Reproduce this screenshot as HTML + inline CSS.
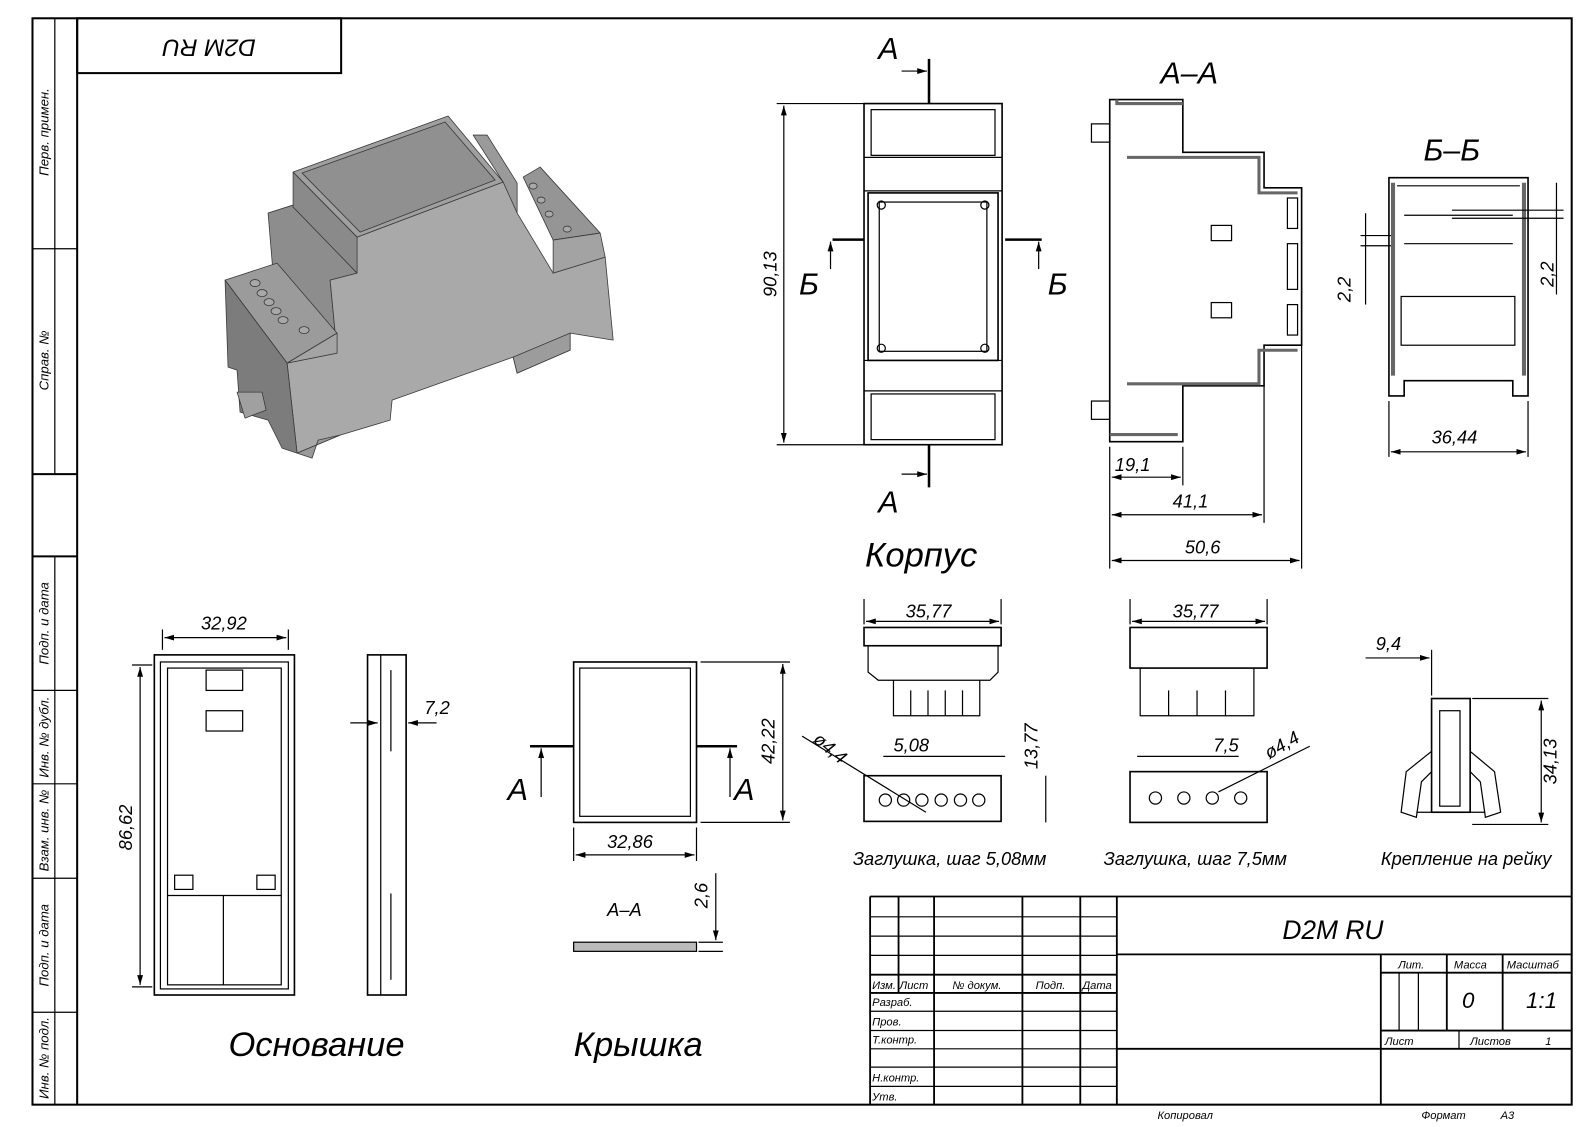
<!DOCTYPE html>
<html><head><meta charset="utf-8"><style>
html,body{margin:0;padding:0;background:#fff;}
svg{display:block;}
text{font-family:"Liberation Sans","DejaVu Sans",sans-serif;font-style:italic;fill:#000;}
</style></head><body>
<svg width="1592" height="1127" viewBox="0 0 1568 1110" xmlns="http://www.w3.org/2000/svg">
<defs><marker id="ar" viewBox="0 0 10 10" refX="10" refY="5" markerWidth="8" markerHeight="8" orient="auto-start-reverse"><path d="M0,2 L10,5 L0,8 z" fill="#000"/></marker></defs>
<g fill="none" stroke="#000" stroke-width="1.2">
<rect x="32" y="18" width="1516" height="1070" stroke-width="2"/>
<line x1="76" y1="18" x2="76" y2="1088" stroke-width="2"/>
<line x1="54" y1="18" x2="54" y2="467"/><line x1="32" y1="245" x2="76" y2="245"/><line x1="32" y1="467" x2="76" y2="467" stroke-width="2"/>
<line x1="54" y1="548" x2="54" y2="1088"/>
<line x1="32" y1="548" x2="76" y2="548" stroke-width="2"/><line x1="32" y1="680" x2="76" y2="680"/><line x1="32" y1="772" x2="76" y2="772"/><line x1="32" y1="865" x2="76" y2="865"/><line x1="32" y1="997" x2="76" y2="997"/>
<rect x="76" y="18" width="260" height="54" stroke-width="2"/>
<g stroke-width="1.8">
<line x1="857" y1="883" x2="1548" y2="883"/><line x1="857" y1="883" x2="857" y2="1088"/>
<line x1="1100" y1="883" x2="1100" y2="1088"/>
<line x1="1100" y1="940" x2="1548" y2="940"/><line x1="1100" y1="1033" x2="1548" y2="1033"/>
<line x1="1360" y1="940" x2="1360" y2="1088"/>
<line x1="857" y1="960" x2="1100" y2="960"/><line x1="857" y1="978" x2="1100" y2="978"/>
<line x1="1360" y1="958" x2="1548" y2="958"/><line x1="1360" y1="1015" x2="1548" y2="1015"/>
<line x1="1425" y1="940" x2="1425" y2="1015"/><line x1="1480" y1="940" x2="1480" y2="1015"/>
<line x1="885" y1="883" x2="885" y2="978"/><line x1="920" y1="883" x2="920" y2="1088"/><line x1="1007" y1="883" x2="1007" y2="1088"/><line x1="1064" y1="883" x2="1064" y2="1088"/>
</g>
<line x1="857" y1="903" x2="1100" y2="903"/><line x1="857" y1="922" x2="1100" y2="922"/><line x1="857" y1="941" x2="1100" y2="941"/>
<line x1="857" y1="996" x2="1100" y2="996"/><line x1="857" y1="1015" x2="1100" y2="1015"/><line x1="857" y1="1033" x2="1100" y2="1033"/><line x1="857" y1="1051" x2="1100" y2="1051"/><line x1="857" y1="1070" x2="1100" y2="1070"/>
<line x1="1378" y1="958" x2="1378" y2="1015"/><line x1="1397" y1="958" x2="1397" y2="1015"/><line x1="1437" y1="1015" x2="1437" y2="1033"/>

<rect x="851" y="102" width="136" height="336" stroke-width="1.6"/>
<rect x="858" y="108" width="122" height="45"/><line x1="851" y1="155" x2="987" y2="155"/><line x1="851" y1="188" x2="987" y2="188"/>
<rect x="855" y="190" width="128" height="165" stroke-width="1.6"/>
<rect x="866" y="199" width="106" height="147"/>
<line x1="851" y1="355" x2="987" y2="355"/><line x1="851" y1="385" x2="987" y2="385"/>
<rect x="858" y="388" width="122" height="45"/>
<circle cx="868" cy="202" r="4"/><circle cx="970" cy="202" r="4"/><circle cx="868" cy="343" r="4"/><circle cx="970" cy="343" r="4"/>
<line x1="915" y1="58" x2="915" y2="102" stroke-width="2.5"/><line x1="915" y1="438" x2="915" y2="480" stroke-width="2.5"/>
<line x1="888" y1="70" x2="913" y2="70" marker-end="url(#ar)"/><line x1="888" y1="467" x2="913" y2="467" marker-end="url(#ar)"/>
<line x1="820" y1="236" x2="851" y2="236" stroke-width="2.5"/><line x1="990" y1="236" x2="1026" y2="236" stroke-width="2.5"/>
<line x1="818" y1="265" x2="818" y2="238" marker-end="url(#ar)"/><line x1="1023" y1="265" x2="1023" y2="238" marker-end="url(#ar)"/>
<line x1="765" y1="102" x2="851" y2="102"/><line x1="765" y1="438" x2="851" y2="438"/>
<line x1="772" y1="104" x2="772" y2="436" marker-start="url(#ar)" marker-end="url(#ar)"/>

<path d="M1093,98 L1165,98 L1165,150 L1245,150 L1245,185 L1282,185 L1282,340 L1245,340 L1245,380 L1165,380 L1165,435 L1093,435 Z" stroke-width="1.6"/>
<path d="M1100,98 L1100,102 L1165,102 M1110,155 L1240,155 L1240,190 L1278,190 M1110,378 L1240,378 L1240,345 L1278,345 M1093,428 L1160,428" stroke="#666" stroke-width="3"/>
<rect x="1075" y="122" width="18" height="18"/><rect x="1075" y="395" width="18" height="18"/>
<rect x="1193" y="222" width="20" height="15"/><rect x="1193" y="298" width="20" height="15"/>
<rect x="1268" y="195" width="10" height="30"/><rect x="1268" y="240" width="10" height="45"/><rect x="1268" y="300" width="10" height="30"/>
<line x1="1093" y1="440" x2="1093" y2="560"/><line x1="1165" y1="440" x2="1165" y2="478"/><line x1="1245" y1="380" x2="1245" y2="515"/><line x1="1282" y1="340" x2="1282" y2="560"/>
<line x1="1095" y1="470" x2="1163" y2="470" marker-start="url(#ar)" marker-end="url(#ar)"/>
<line x1="1095" y1="507" x2="1243" y2="507" marker-start="url(#ar)" marker-end="url(#ar)"/>
<line x1="1095" y1="552" x2="1280" y2="552" marker-start="url(#ar)" marker-end="url(#ar)"/>

<path d="M1368,175 L1505,175 L1505,390 L1490,390 L1490,375 L1383,375 L1383,390 L1368,390 Z" stroke-width="1.6"/>
<path d="M1372,180 L1372,370 M1501,180 L1501,370" stroke="#666" stroke-width="4"/>
<line x1="1376" y1="183" x2="1497" y2="183"/>
<line x1="1383" y1="212" x2="1490" y2="212"/><line x1="1383" y1="240" x2="1490" y2="240"/>
<rect x="1380" y="292" width="112" height="48"/>
<line x1="1368" y1="395" x2="1368" y2="450"/><line x1="1505" y1="395" x2="1505" y2="450"/>
<line x1="1370" y1="445" x2="1503" y2="445" marker-start="url(#ar)" marker-end="url(#ar)"/>
<line x1="1345" y1="210" x2="1345" y2="300"/><line x1="1533" y1="180" x2="1533" y2="290"/>
<line x1="1340" y1="232" x2="1370" y2="232"/><line x1="1340" y1="242" x2="1370" y2="242"/>
<line x1="1430" y1="207" x2="1540" y2="207"/><line x1="1430" y1="215" x2="1540" y2="215"/>

<rect x="152" y="645" width="138" height="335" stroke-width="1.6"/>
<rect x="158" y="652" width="126" height="322"/><rect x="165" y="658" width="112" height="312"/>
<rect x="203" y="660" width="36" height="20"/><rect x="203" y="700" width="36" height="20"/>
<line x1="165" y1="882" x2="277" y2="882"/><line x1="220" y1="882" x2="220" y2="970"/>
<rect x="172" y="862" width="18" height="14"/><rect x="253" y="862" width="18" height="14"/>
<line x1="160" y1="620" x2="160" y2="640"/><line x1="284" y1="620" x2="284" y2="640"/>
<line x1="162" y1="628" x2="282" y2="628" marker-start="url(#ar)" marker-end="url(#ar)"/>
<line x1="130" y1="655" x2="150" y2="655"/><line x1="130" y1="972" x2="150" y2="972"/>
<line x1="138" y1="657" x2="138" y2="970" marker-start="url(#ar)" marker-end="url(#ar)"/>
<rect x="362" y="645" width="38" height="335" stroke-width="1.6"/>
<line x1="375" y1="645" x2="375" y2="980"/><line x1="385" y1="660" x2="385" y2="740"/><line x1="385" y1="880" x2="385" y2="965"/>
<line x1="345" y1="712" x2="372" y2="712" marker-end="url(#ar)"/><line x1="430" y1="712" x2="402" y2="712" marker-end="url(#ar)"/>

<rect x="565" y="652" width="121" height="158" stroke-width="1.6"/><rect x="571" y="658" width="109" height="146"/>
<line x1="522" y1="735" x2="565" y2="735" stroke-width="2.5"/><line x1="686" y1="735" x2="726" y2="735" stroke-width="2.5"/>
<line x1="533" y1="785" x2="533" y2="737" marker-end="url(#ar)"/><line x1="719" y1="785" x2="719" y2="737" marker-end="url(#ar)"/>
<line x1="690" y1="652" x2="778" y2="652"/><line x1="690" y1="810" x2="778" y2="810"/>
<line x1="771" y1="654" x2="771" y2="808" marker-start="url(#ar)" marker-end="url(#ar)"/>
<line x1="565" y1="815" x2="565" y2="848"/><line x1="686" y1="815" x2="686" y2="848"/>
<line x1="567" y1="842" x2="684" y2="842" marker-start="url(#ar)" marker-end="url(#ar)"/>
<rect x="565" y="928" width="121" height="9" fill="#bbb"/>
<line x1="705" y1="860" x2="705" y2="926" marker-end="url(#ar)"/><line x1="688" y1="928" x2="712" y2="928"/><line x1="688" y1="937" x2="712" y2="937"/>

<rect x="851" y="618" width="135" height="18" stroke-width="1.6"/><path d="M855,636 L855,662 L865,670 L975,670 L983,662 L983,636"/>
<path d="M880,670 L880,705 L965,705 L965,670"/><line x1="897" y1="680" x2="897" y2="705"/><line x1="914" y1="680" x2="914" y2="705"/><line x1="931" y1="680" x2="931" y2="705"/><line x1="948" y1="680" x2="948" y2="705"/>
<line x1="851" y1="590" x2="851" y2="615"/><line x1="986" y1="590" x2="986" y2="615"/><line x1="853" y1="612" x2="984" y2="612" marker-start="url(#ar)" marker-end="url(#ar)"/>
<rect x="851" y="764" width="135" height="45" stroke-width="1.6"/>
<circle cx="872" cy="788" r="6"/><circle cx="890" cy="788" r="6"/><circle cx="908" cy="788" r="6"/><circle cx="927" cy="788" r="6"/><circle cx="946" cy="788" r="6"/><circle cx="964" cy="788" r="6"/>
<line x1="790" y1="725" x2="912" y2="800"/><line x1="1030" y1="764" x2="1030" y2="810"/>
<line x1="870" y1="745" x2="990" y2="745"/>
<rect x="1113" y="618" width="135" height="40" stroke-width="1.6"/><path d="M1123,658 L1123,705 L1235,705 L1235,658"/>
<line x1="1151" y1="680" x2="1151" y2="705"/><line x1="1179" y1="680" x2="1179" y2="705"/><line x1="1207" y1="680" x2="1207" y2="705"/>
<line x1="1113" y1="590" x2="1113" y2="615"/><line x1="1248" y1="590" x2="1248" y2="615"/><line x1="1115" y1="612" x2="1246" y2="612" marker-start="url(#ar)" marker-end="url(#ar)"/>
<rect x="1113" y="760" width="135" height="50" stroke-width="1.6"/>
<circle cx="1138" cy="786" r="6"/><circle cx="1166" cy="786" r="6"/><circle cx="1194" cy="786" r="6"/><circle cx="1222" cy="786" r="6"/>
<line x1="1120" y1="745" x2="1220" y2="745"/><line x1="1290" y1="735" x2="1200" y2="780"/>
<rect x="1410" y="688" width="38" height="112" stroke-width="1.6"/><rect x="1418" y="700" width="20" height="94"/>
<path d="M1410,740 L1385,760 L1380,800 L1395,805 L1400,770 L1410,760"/><path d="M1448,740 L1472,760 L1478,800 L1463,805 L1458,770 L1448,760"/>
<line x1="1395" y1="800" x2="1463" y2="800"/>
<line x1="1410" y1="640" x2="1410" y2="685"/><line x1="1345" y1="648" x2="1408" y2="648" marker-end="url(#ar)"/>
<line x1="1450" y1="688" x2="1525" y2="688"/><line x1="1450" y1="812" x2="1525" y2="812"/><line x1="1518" y1="690" x2="1518" y2="810" marker-start="url(#ar)" marker-end="url(#ar)"/>
</g>

<!-- 3D render (actual px coords scaled) -->
<g transform="scale(0.9852)" stroke="#3a3a3a" stroke-width="0.8" stroke-linejoin="round">
<polygon points="473,135 487,135 517,183 517,213 503,210 503,182" fill="#9a9a9a"/>
<polygon points="268,213 293,205 357,273 330,280 337,353 287,363 273,273" fill="#8d8d8d"/>
<polygon points="330,280 357,273 357,237 503,182 517,213 553,273 605,257 613,340 570,333 570,350 517,373 513,357 392,400 390,420 340,435 297,453 287,363 337,353" fill="#a9a9a9"/>
<polygon points="293,172 357,237 357,273 293,207" fill="#8a8a8a"/>
<polygon points="293,172 448,116 503,182 357,237" fill="#a0a0a0"/>
<polygon points="302,173 445,122 495,180 360,232" fill="#909090"/>
<polygon points="523,177 540,167 600,233 553,240" fill="#959595"/>
<polygon points="553,240 600,233 605,257 553,273" fill="#a3a3a3"/>
<polygon points="225,280 277,263 337,333 287,363" fill="#9b9b9b"/>
<polygon points="287,363 337,353 337,333" fill="#a4a4a4"/>
<polygon points="225,280 287,363 297,453 282,448 268,420 240,412 237,370 228,367" fill="#7c7c7c"/>
<polygon points="237,392 262,392 266,410 245,418" fill="#a0a0a0"/>
<polygon points="297,453 312,458 318,440 340,435" fill="#999"/>
<polygon points="513,357 517,373 570,350 570,333" fill="#9c9c9c"/>
<g fill="#a8a8a8"><ellipse cx="255" cy="283" rx="5" ry="3.5"/><ellipse cx="262" cy="293" rx="5" ry="3.5"/><ellipse cx="269" cy="302" rx="5" ry="3.5"/><ellipse cx="276" cy="311" rx="5" ry="3.5"/><ellipse cx="283" cy="320" rx="5" ry="3.5"/><ellipse cx="304" cy="330" rx="5" ry="3.5"/>
<ellipse cx="533" cy="186" rx="4" ry="3"/><ellipse cx="541" cy="200" rx="4" ry="3"/><ellipse cx="549" cy="214" rx="4" ry="3"/><ellipse cx="567" cy="229" rx="4" ry="3"/></g>
</g>

<g font-size="13">
<text x="206" y="55" font-size="24" text-anchor="middle" transform="rotate(180 206 47)">D2M RU</text>
<text x="48" y="130" transform="rotate(-90 48 130)" text-anchor="middle">Перв. примен.</text>
<text x="48" y="355" transform="rotate(-90 48 355)" text-anchor="middle">Справ. №</text>
<text x="48" y="614" transform="rotate(-90 48 614)" text-anchor="middle">Подп. и дата</text>
<text x="48" y="726" transform="rotate(-90 48 726)" text-anchor="middle">Инв. № дубл.</text>
<text x="48" y="818" transform="rotate(-90 48 818)" text-anchor="middle">Взам. инв. №</text>
<text x="48" y="931" transform="rotate(-90 48 931)" text-anchor="middle">Подп. и дата</text>
<text x="48" y="1042" transform="rotate(-90 48 1042)" text-anchor="middle">Инв. № подл.</text>
</g>
<g font-size="30">
<text x="865" y="58">А</text><text x="865" y="505">А</text>
<text x="787" y="290">Б</text><text x="1032" y="290">Б</text>
<text x="1143" y="82">А–А</text><text x="1402" y="158">Б–Б</text>
<text x="852" y="558" font-size="34">Корпус</text>
<text x="225" y="1040" font-size="34">Основание</text>
<text x="565" y="1040" font-size="34">Крышка</text>
<text x="500" y="788">А</text><text x="723" y="788">А</text>
<text x="1263" y="925" font-size="26">D2M  RU</text>
</g>
<g font-size="18">
<text x="765" y="270" transform="rotate(-90 765 270)" text-anchor="middle">90,13</text>
<text x="1098" y="464">19,1</text><text x="1155" y="500">41,1</text><text x="1167" y="545">50,6</text>
<text x="1410" y="437">36,44</text>
<text x="1330" y="285" transform="rotate(-90 1330 285)" text-anchor="middle">2,2</text>
<text x="1530" y="270" transform="rotate(-90 1530 270)" text-anchor="middle">2,2</text>
<text x="198" y="620">32,92</text><text x="130" y="815" transform="rotate(-90 130 815)" text-anchor="middle">86,62</text>
<text x="418" y="703">7,2</text>
<text x="598" y="835">32,86</text><text x="763" y="730" transform="rotate(-90 763 730)" text-anchor="middle">42,22</text>
<text x="598" y="902">А–А</text><text x="697" y="882" transform="rotate(-90 697 882)" text-anchor="middle">2,6</text>
<text x="892" y="608">35,77</text><text x="1155" y="608">35,77</text>
<text x="880" y="740">5,08</text><text x="1195" y="740">7,5</text>
<text x="800" y="730" transform="rotate(40 800 730)">ø4,4</text><text x="1250" y="748" transform="rotate(-30 1250 748)">ø4,4</text>
<text x="1022" y="735" transform="rotate(-90 1022 735)" text-anchor="middle">13,77</text>
<text x="1355" y="640">9,4</text>
<text x="1533" y="750" transform="rotate(-90 1533 750)" text-anchor="middle">34,13</text>
<text x="840" y="852">Заглушка, шаг 5,08мм</text><text x="1087" y="852">Заглушка, шаг 7,5мм</text><text x="1360" y="852">Крепление на рейку</text>
<text x="1440" y="993" font-size="22">0</text><text x="1503" y="993" font-size="22">1:1</text>
</g>
<g font-size="11">
<text x="859" y="974">Изм.</text><text x="886" y="974">Лист</text><text x="938" y="974">№ докум.</text><text x="1020" y="974">Подп.</text><text x="1066" y="974">Дата</text>
<text x="859" y="991">Разраб.</text><text x="859" y="1010">Пров.</text><text x="859" y="1028">Т.контр.</text><text x="859" y="1065">Н.контр.</text><text x="859" y="1084">Утв.</text>
<text x="1377" y="954">Лит.</text><text x="1432" y="954">Масса</text><text x="1484" y="954">Масштаб</text>
<text x="1364" y="1029">Лист</text><text x="1448" y="1029">Листов</text><text x="1522" y="1029">1</text>
<text x="1140" y="1102">Копировал</text><text x="1400" y="1102">Формат</text><text x="1478" y="1102">А3</text>
</g>
</svg>
</body></html>
